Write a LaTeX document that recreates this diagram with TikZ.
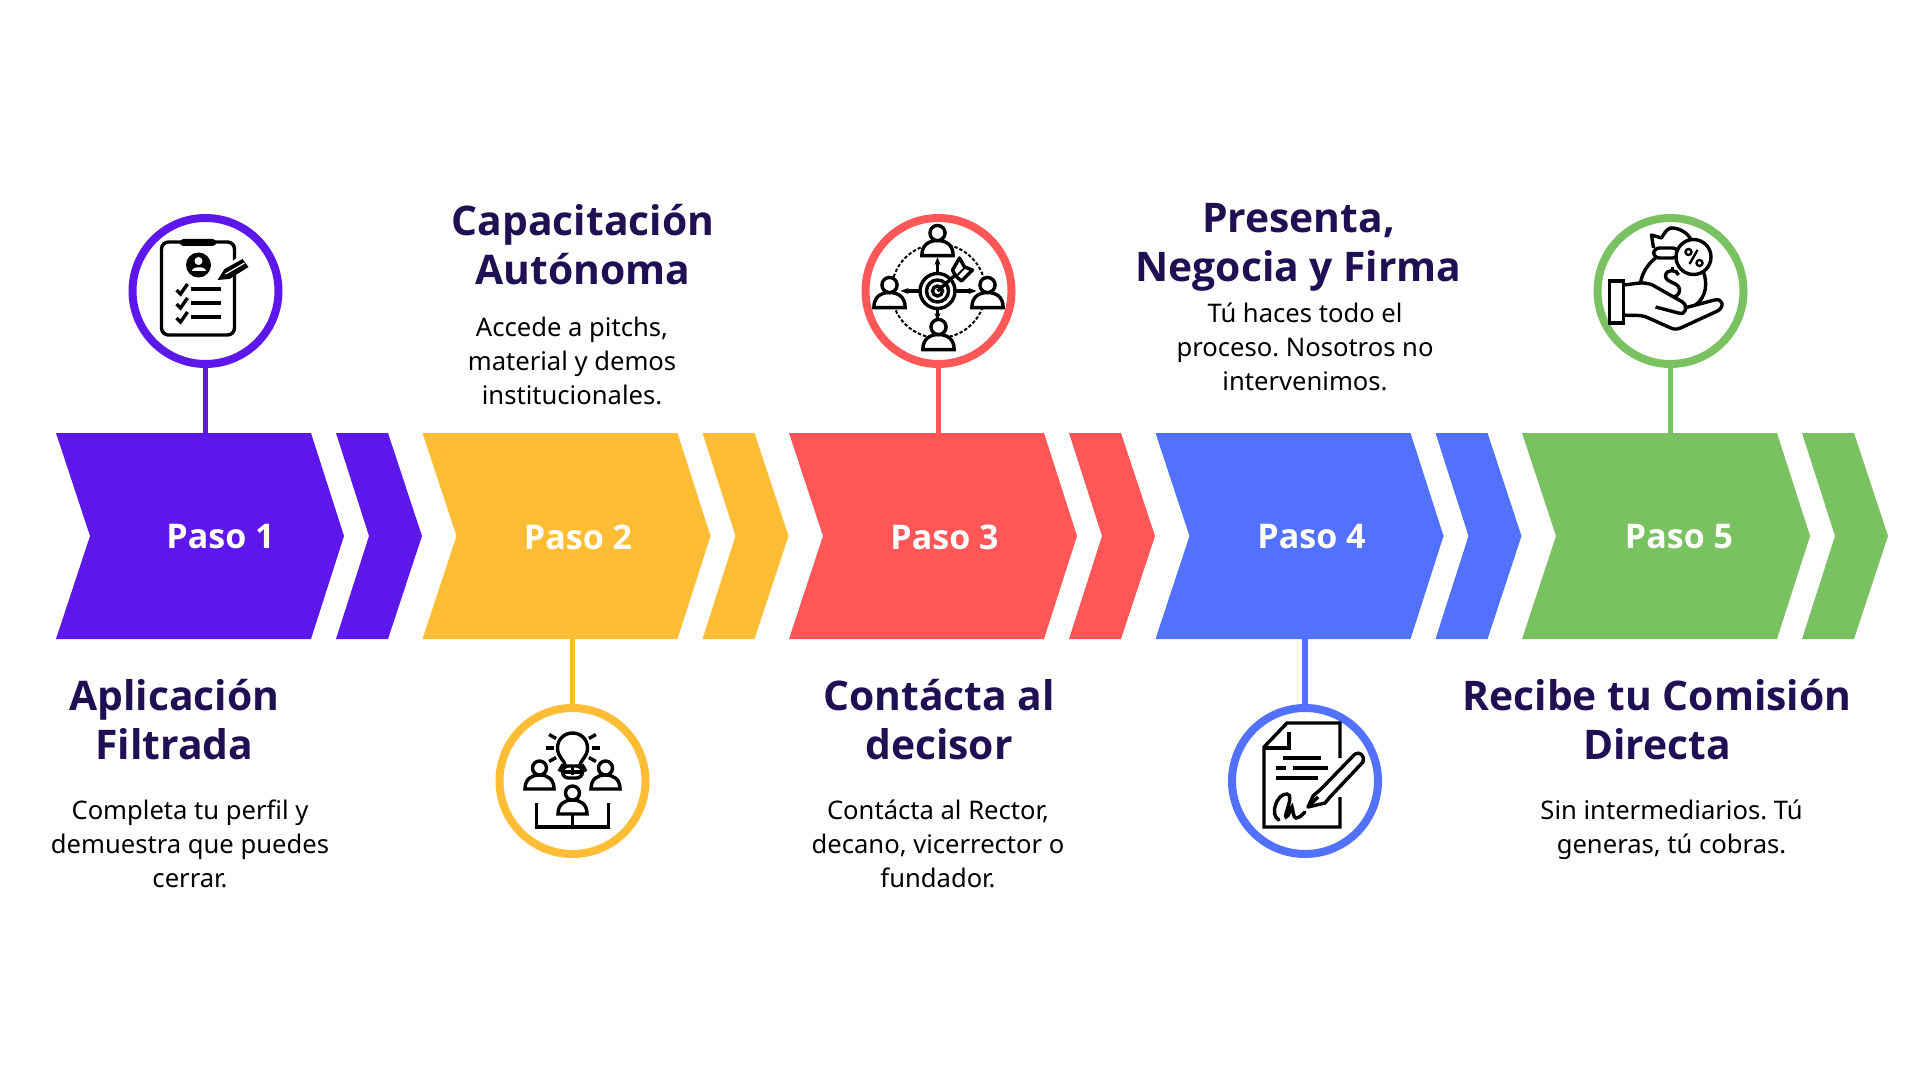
\documentclass[tikz,border=0pt]{standalone}
\usepackage{fontspec}
\setmainfont{Noto Sans}
\newfontfamily\titlefont{Open Sans}
\usepackage{xcolor}
\usetikzlibrary{arrows.meta, positioning}

\definecolor{pasoA}{HTML}{5E17EB}
\definecolor{pasoB}{HTML}{FFBD35}
\definecolor{pasoC}{HTML}{FF5757}
\definecolor{pasoD}{HTML}{5271FF}
\definecolor{pasoE}{HTML}{7AC161}
\definecolor{tinta}{HTML}{1F0F53}

\tikzset{
    chevron/.pic = {
        \path[pic actions] (0,0) -- (255,0) -- (288,103) -- (255,206) -- (0,206) -- (34,103) -- cycle;
        \path[pic actions] (280,0) -- (332,0) -- (366,103) -- (332,206) -- (280,206) -- (313,103) -- cycle;
        \coordinate (-top) at (150,0);
        \coordinate (-bot) at (150,206);
    },
    person/.pic = {
        \draw[ink, fill=white] (-14.5,21) .. controls (-14.5,11) and (-8,7) .. (0,7)
            .. controls (8,7) and (14.5,11) .. (14.5,21) -- cycle;
        \draw[ink, fill=white] (0,0) circle (7);
    },
    %% Step 1: clipboard with checklist
    iconlista/.pic = {
        \draw[ink, rounded corners=3.5pt] (-44,-49) rectangle (29,44);
        \fill[rounded corners=2pt] (-26,-52) rectangle (11,-45);
        \fill (-7,-26) circle (12.5);
        \fill[white] (-7,-30) circle (4);
        \fill[white] (-14,-20) .. controls (-14,-25) and (0,-25) .. (0,-20) -- cycle;
        \draw[ink] (-15,-2) -- (15,-2);
        \draw[ink] (-15,12) -- (15,12);
        \draw[ink] (-15,26) -- (15,26);
        \draw[ink] (-29,-1) -- (-25,3) -- (-18,-7);
        \draw[ink] (-29,13) -- (-25,17) -- (-18,7);
        \draw[ink] (-29,27) -- (-25,31) -- (-18,21);
        \draw[white, line width=5pt] (22,-19) -- (34,-29);
        \fill (12,-11) -- (19,-22) -- (37,-32) -- (43,-24) -- (24,-12) -- cycle;
        \draw[white, line width=0.6pt] (20,-17) -- (39,-28);
    },
    %% Step 2: bulb over three people
    iconidea/.pic = {
        \draw[ink] (-7,-15) .. controls (-8,-21) and (-15,-24) .. (-15,-33)
            .. controls (-15,-42) and (-8,-48) .. (0,-48)
            .. controls (8,-48) and (15,-42) .. (15,-33)
            .. controls (15,-24) and (8,-21) .. (7,-15);
        \draw[ink, rounded corners=3pt] (-10,-15) rectangle (10,-3);
        \draw[ink] (-10,-9) -- (10,-9);
        \foreach \a in {90,60,120,30,150,0,180,-30,210}
            \draw[ink] ([shift={(0,-33)}]\a:19) -- ([shift={(0,-33)}]\a:27);
        \pic at (-33,-13) {person};
        \pic at (33,-13) {person};
        \pic at (0,12) {person};
        \draw[ink] (-36,22) -- (-36,46) -- (36,46) -- (36,22);
        \draw[ink] (0,33) -- (0,46);
    },
    %% Step 3: target with four people
    icondiana/.pic = {
        \draw[ink, densely dotted, line width=1pt] (0,0) circle (47);
        \draw[ink, -{Stealth[length=4pt]}] (-1,-17) -- (-1,-34);
        \draw[ink, -{Stealth[length=4pt]}] (-18,0) -- (-38,0);
        \draw[ink, -{Stealth[length=4pt]}] (16,0) -- (38,0);
        \draw[ink, -{Stealth[length=4pt]}] (-1,17) -- (-1,30);
        \pic[scale=1.08] at (-1,-58) {person};
        \pic[scale=1.08] at (-49,-6) {person};
        \pic[scale=1.08] at (49,-6) {person};
        \pic[scale=1.08] at (0,36) {person};
        \draw[ink, fill=white] (-1,0) circle (17.5);
        \draw[ink] (-1,0) circle (11);
        \draw[ink] (-1,0) circle (5);
        \draw[ink] (-1,0) -- (18,-17);
        \draw[ink, line join=round] (14,-21) -- (21,-33) -- (26,-24) -- (34,-21) -- (23,-10) -- (17,-15) -- cycle;
        \draw[ink, line width=1pt] (19,-16) -- (27,-24);
    },
    %% Step 4: signed document with pen
    iconfirma/.pic = {
        \draw[ink] (35,-23) -- (35,-58) -- (-18,-58) -- (-41,-34) -- (-41,46) -- (35,46) -- (35,16);
        \draw[ink] (-16,-49) -- (-16,-33) -- (-41,-33);
        \draw[ink] (-22,-23) -- (16,-23);
        \draw[ink] (-29,-13) -- (-19,-13);
        \draw[ink] (-12,-13) -- (23,-13);
        \draw[ink] (-29,-3) -- (13,-3);
        \draw[ink, line join=round] (3,26) -- (8,15) -- (16,8) -- (50,-27)
            .. controls (55,-30) and (60,-25) .. (58,-19) -- (25,16) -- (20,22) -- cycle;
        \draw[ink] (3,26) -- (13,16);
        \draw[ink, line cap=round] (-26,39) .. controls (-36,34) and (-28,12) .. (-18,13)
            .. controls (-10,14) and (-22,36) .. (-19,36)
            .. controls (-16,36) and (-14,26) .. (-13,26)
            .. controls (-12,28) and (-12,37) .. (-9,37)
            .. controls (-6,37) and (-3,34) .. (0,31);
    },
    %% Step 5: hand holding a money bag
    iconbolsa/.pic = {
        \draw[ink, line join=round] (-17,-43) -- (-19,-56) -- (-9,-53) .. controls (-5,-60) and (-2,-64) .. (3,-63)
            .. controls (10,-62) and (18,-58) .. (21,-50);
        \draw[ink, fill=white, rounded corners=3pt] (-17,-43) rectangle (8,-33);
        \draw[ink] (-15,-33) .. controls (-25,-25) and (-30,-14) .. (-30,-6);
        \draw[ink] (33,-19) .. controls (37,-8) and (36,6) .. (25,14);
        \draw[ink] (8,-16) .. controls (7,-22) and (-5,-22) .. (-5,-15)
            .. controls (-5,-8) and (9,-9) .. (9,-1)
            .. controls (9,8) and (-5,8) .. (-5,1);
        \draw[ink] (2,-24) -- (2,-20);
        \draw[ink, fill=white] (23,-34) circle (17.5);
        \draw[ink, line width=1.2pt] (18,-39) circle (3);
        \draw[ink, line width=1.2pt] (29,-28) circle (3);
        \draw[ink, line width=1.2pt] (27,-41) -- (19,-27);
        \draw[ink, fill=white, line join=round] (-47,-6) .. controls (-35,-7) and (-28,-10) .. (-18,-6)
            -- (12,11) .. controls (18,15) and (15,25) .. (8,22) -- (-15,16)
            (14,17) -- (44,9) .. controls (53,7) and (54,16) .. (47,20)
            -- (10,37) .. controls (5,39) and (2,38) .. (-2,36)
            -- (-22,27) .. controls (-30,23) and (-38,25) .. (-47,24);
        \draw[ink, fill=white] (-61,-10) rectangle (-47,32);
    }
}

\begin{document}
\begin{tikzpicture}[
    x=0.5pt, y=-0.5pt,
    ink/.style   = {line width=1.7pt, black},
    ring/.style  = {circle, minimum size=73pt, line width=4pt, inner sep=0pt, fill=white},
    stem/.style  = {line width=2.6pt},
    paso/.style  = {white, font=\titlefont\fontsize{17}{20}\selectfont\bfseries},
    titulo/.style= {tinta, align=center, inner sep=0pt,
                    font=\titlefont\fontsize{20.4}{24.5}\selectfont\bfseries},
    texto/.style = {black, align=center, inner sep=0pt,
                    font=\frenchspacing\fontsize{12.8}{17}\selectfont}
]
\useasboundingbox (0,0) rectangle (1920,1080);

%% Chevron band
\pic[fill=pasoA] (ch1) at (56,433)   {chevron};
\pic[fill=pasoB] (ch2) at (422.5,433){chevron};
\pic[fill=pasoC] (ch3) at (789,433)  {chevron};
\pic[fill=pasoD] (ch4) at (1155.5,433){chevron};
\pic[fill=pasoE] (ch5) at (1522,433) {chevron};

\node[paso] (paso1) at (220.5,537) {Paso 1};
\node[paso] (paso2) at (578,537)   {Paso 2};
\node[paso] (paso3) at (944.5,537) {Paso 3};
\node[paso] (paso4) at (1311.5,537){Paso 4};
\node[paso] (paso5) at (1679,537)  {Paso 5};

%% Icon rings
\node[ring, draw=pasoA] (icon1) at (205.5,291) {};
\node[ring, draw=pasoB] (icon2) at (572.5,781) {};
\node[ring, draw=pasoC] (icon3) at (938.5,291) {};
\node[ring, draw=pasoD] (icon4) at (1305,781)  {};
\node[ring, draw=pasoE] (icon5) at (1670.5,291){};

%% Stems
\draw[stem, draw=pasoA] (icon1.south) -- (icon1.south |- ch1-top);
\draw[stem, draw=pasoB] (icon2.north) -- (icon2.north |- ch2-bot);
\draw[stem, draw=pasoC] (icon3.south) -- (icon3.south |- ch3-top);
\draw[stem, draw=pasoD] (icon4.north) -- (icon4.north |- ch4-bot);
\draw[stem, draw=pasoE] (icon5.south) -- (icon5.south |- ch5-top);

%% Icons
\pic at (icon1) {iconlista};
\pic at (icon2) {iconidea};
\pic at (icon3) {icondiana};
\pic at (icon4) {iconfirma};
\pic at (icon5) {iconbolsa};

%% Titles
\node[titulo] (tit1) at (174.5,720)  {Aplicación\\Filtrada};
\node[titulo] (tit2) at (583,245)    {Capacitación\\Autónoma};
\node[titulo] (tit3) at (939,720)    {Contácta al\\decisor};
\node[titulo] (tit4) at (1298.5,247) {Presenta,\\Negocia y Firma};
\node[titulo] (tit5) at (1657,720)   {Recibe tu Comisión\\Directa};

%% Body text
\node[texto] (txt1) at (190,843.5)  {Completa tu perfil y\\demuestra que puedes\\cerrar.};
\node[texto] (txt2) at (572,361)    {Accede a pitchs,\\material y demos\\institucionales.};
\node[texto] (txt3) at (938,843.5)  {Contácta al Rector,\\decano, vicerrector o\\fundador.};
\node[texto] (txt4) at (1305,347)   {Tú haces todo el\\proceso. Nosotros no\\intervenimos.};
\node[texto] (txt5) at (1671.5,830) {Sin intermediarios. Tú\\generas, tú cobras.};

\end{tikzpicture}
\end{document}
